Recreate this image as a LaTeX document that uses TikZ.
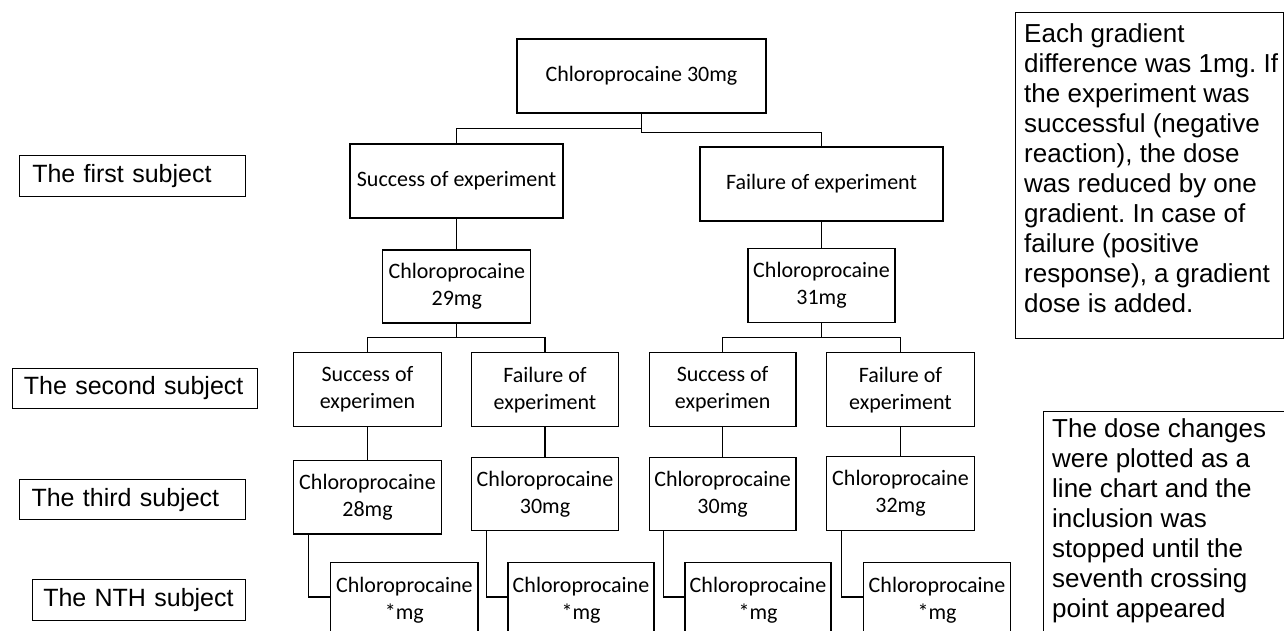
\documentclass[tikz,border=0pt]{standalone}
\usepackage{fontspec}
\setmainfont{Liberation Sans}
\newfontfamily\carlito{Carlito}
\frenchspacing
\begin{document}
\begin{tikzpicture}[x=1pt,y=-1pt,
  fc/.style={draw=black, line width=1.2pt, font=\carlito\fontsize{22}{27}\selectfont, align=center, inner sep=0pt},
  lab/.style={draw=black, line width=1.1pt, font=\fontsize{25}{30}\selectfont, align=left, inner ysep=0pt, anchor=north west},
  note/.style={draw=black, line width=1.2pt, anchor=north west, inner sep=0pt},
  notetext/.style={anchor=north west, align=left, inner sep=0pt, font=\fontsize{26}{30}\selectfont},
  link/.style={line width=1.2pt}]
\useasboundingbox (0,0) rectangle (1284,630);
\clip (0,0) rectangle (1284,630);
\fill[white] (0,0) rectangle (1284,630);

% flowchart
\node[fc, minimum width=249, minimum height=74] (root) at (641.5,76) {Chloroprocaine 30mg};
\node[fc, minimum width=213, minimum height=74] (s1) at (456.5,181) {Success of experiment};
\node[fc, minimum width=243, minimum height=74] (f1) at (821.5,184) {Failure of experiment};
\node[fc, minimum width=148, minimum height=73] (c29) at (456.8,286.5) {Chloroprocaine\\29mg};
\node[fc, minimum width=147, minimum height=74] (c31) at (821.5,285.3) {Chloroprocaine\\31mg};

\node[fc, minimum width=148.4, minimum height=74] (s2a) at (367.5,389.7) {Success of\\experimen};
\node[fc, minimum width=146.6, minimum height=74] (f2a) at (545,389.7) {Failure of\\experiment};
\node[fc, minimum width=146.7, minimum height=74] (s2b) at (722.6,389.7) {Success of\\experimen};
\node[fc, minimum width=147.6, minimum height=74] (f2b) at (900.5,389.7) {Failure of\\experiment};

\node[fc, minimum width=148.4, minimum height=73.3] (c28) at (367.5,497.4) {Chloroprocaine\\28mg};
\node[fc, minimum width=146.6, minimum height=73.4] (c30a) at (545,494) {Chloroprocaine\\30mg};
\node[fc, minimum width=146.7, minimum height=73.4] (c30b) at (722.6,494) {Chloroprocaine\\30mg};
\node[fc, minimum width=147.6, minimum height=74] (c32) at (900.5,493.7) {Chloroprocaine\\32mg};

\node[fc, anchor=north, minimum width=147.3, minimum height=76] (n4a) at (404.4,561.7) {Chloroprocaine\\*mg};
\node[fc, anchor=north, minimum width=146, minimum height=76] (n4b) at (581,561.7) {Chloroprocaine\\*mg};
\node[fc, anchor=north, minimum width=146, minimum height=76] (n4c) at (758,561.7) {Chloroprocaine\\*mg};
\node[fc, anchor=north, minimum width=147.4, minimum height=76] (n4d) at (937,561.7) {Chloroprocaine\\*mg};

% junction levels
\coordinate (j0l) at (0,128.7);
\coordinate (j0r) at (0,132.7);
\coordinate (j1) at (0,337.5);
\coordinate (j4) at (0,597);

\draw[link] (root.south) -- (root.south |- j0r) -| (f1.north);
\draw[link] (root.south |- j0l) -| (s1.north);
\draw[link] (s1.south) -- (s1.south |- c29.north);
\draw[link] (f1.south) -- (f1.south |- c31.north);
\draw[link] (c29.south) -- (c29.south |- j1) -| (s2a.north);
\draw[link] (c29.south |- j1) -| (f2a.north);
\draw[link] (c31.south) -- (c31.south |- j1) -| (s2b.north);
\draw[link] (c31.south |- j1) -| (f2b.north);
\draw[link] (s2a.south) -- (s2a.south |- c28.north);
\draw[link] (f2a.south) -- (f2a.south |- c30a.north);
\draw[link] (s2b.south) -- (s2b.south |- c30b.north);
\draw[link] (f2b.south) -- (f2b.south |- c32.north);
\draw[link] ([xshift=15.5pt]c28.south west) |- (n4a.west |- j4);
\draw[link] ([xshift=15pt]c30a.south west) |- (n4b.west |- j4);
\draw[link] ([xshift=14.5pt]c30b.south west) |- (n4c.west |- j4);
\draw[link] ([xshift=15pt]c32.south west) |- (n4d.west |- j4);

% subject labels
\node[lab, text width=200.6, inner xsep=12.7, minimum height=41] (l1) at (19,155) {The first subject};
\node[lab, text width=222.4, inner xsep=11, minimum height=40] (l2) at (12.3,367.7) {The second subject};
\node[lab, text width=202, inner xsep=12, minimum height=40.3] (l3) at (19,479) {The third subject};
\node[lab, text width=191.3, inner xsep=11, minimum height=40.7] (l4) at (31.7,579.3) {The NTH subject};

% notes
\node[note, minimum width=268, minimum height=326] (note1) at (1015,12) {};
\node[notetext] (t1) at ([xshift=9pt,yshift=-11pt]note1.north west) {Each gradient\\difference was 1mg. If\\the experiment was\\successful (negative\\reaction), the dose\\was reduced by one\\gradient. In case of\\failure (positive\\response), a gradient\\dose is added.};
\node[note, minimum width=262, minimum height=240] (note2) at (1043,411) {};
\node[notetext] (t2) at ([xshift=9pt,yshift=-7pt]note2.north west) {The dose changes\\were plotted as a\\line chart and the\\inclusion was\\stopped until the\\seventh crossing\\point appeared};
\end{tikzpicture}
\end{document}
